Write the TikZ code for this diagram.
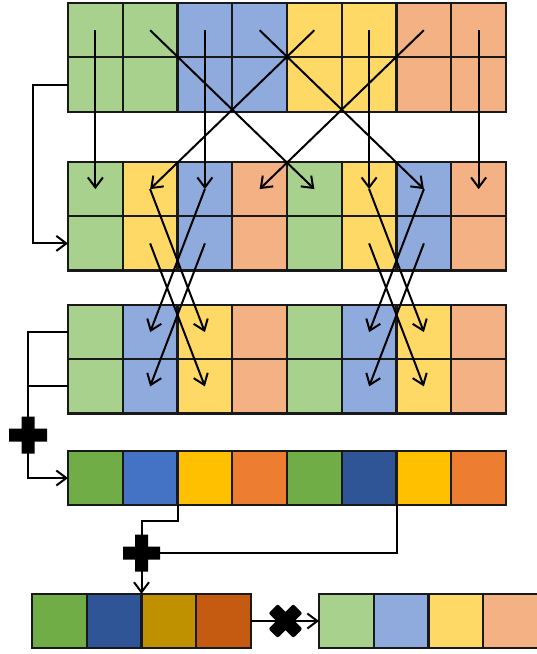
\documentclass[tikz,border=0pt]{standalone}
\usetikzlibrary{arrows.meta}
\definecolor{lg}{HTML}{A9D18E}
\definecolor{lb}{HTML}{8FAADC}
\definecolor{ly}{HTML}{FFD966}
\definecolor{lo}{HTML}{F4B183}
\definecolor{mg}{HTML}{70AD47}
\definecolor{mb}{HTML}{4472C4}
\definecolor{db}{HTML}{2F5597}
\definecolor{my}{HTML}{FFC000}
\definecolor{mo}{HTML}{ED7D31}
\definecolor{dy}{HTML}{BF9000}
\definecolor{do}{HTML}{C55A11}
\begin{document}
\begin{tikzpicture}[x=1pt,y=-1pt,
  cell/.style={draw=black!90, line width=2.1pt, minimum width=54.75pt, minimum height=54.25pt, inner sep=0pt, outer sep=0pt, fill=#1},
  arr/.style={line width=2pt, -{Straight Barb[length=10pt,width=15pt,line width=2pt]}},
  link/.style={line width=2pt}]
\useasboundingbox (0,0) rectangle (537,654);
% row 1
\foreach \i/\c in {1/lg,2/lg,3/lb,4/lb,5/ly,6/ly,7/lo,8/lo} {
  \node[cell=\c] (a\i-t) at ({68+54.75*(\i-0.5)},30.2) {};
  \node[cell=\c] (a\i-b) at ({68+54.75*(\i-0.5)},84.5) {};
}
% row 2
\foreach \i/\c in {1/lg,2/ly,3/lb,4/lo,5/lg,6/ly,7/lb,8/lo} {
  \node[cell=\c] (b\i-t) at ({68+54.75*(\i-0.5)},189.1) {};
  \node[cell=\c] (b\i-b) at ({68+54.75*(\i-0.5)},243.4) {};
}
% row 3
\foreach \i/\c in {1/lg,2/lb,3/ly,4/lo,5/lg,6/lb,7/ly,8/lo} {
  \node[cell=\c] (c\i-t) at ({68+54.75*(\i-0.5)},332.1) {};
  \node[cell=\c] (c\i-b) at ({68+54.75*(\i-0.5)},386.4) {};
}
% row 4
\foreach \i/\c in {1/mg,2/mb,3/my,4/mo,5/mg,6/db,7/my,8/mo} {
  \node[cell=\c] (d\i) at ({68+54.75*(\i-0.5)},478) {};
}
% row 5
\foreach \i/\c in {1/mg,2/db,3/dy,4/do} {
  \node[cell=\c] (e\i) at ({32+54.75*(\i-0.5)},621) {};
}
% row 6
\foreach \i/\c in {1/lg,2/lb,3/ly,4/lo} {
  \node[cell=\c] (f\i) at ({319+54.75*(\i-0.5)},621) {};
}
% row1 -> row2
\foreach \s/\t in {1/1,2/5,3/3,4/7,5/2,6/6,7/4,8/8} {
  \draw[arr] (a\s-t.center) -- (b\t-t.center);
}
% row2 -> row3
\foreach \s/\t in {2/3,3/2,6/7,7/6} {
  \draw[arr] (b\s-t.center) -- (c\t-t.center);
  \draw[arr] (b\s-b.center) -- (c\t-b.center);
}
% left connector top
\draw[arr] (a1-b.west) -- ++(-35,0) |- (b1-b.west);
% plus 1
\coordinate (p1) at (28,435);
\draw[link] (c1-t.west) -| (p1);
\draw[link] (c1-b.west) -- (c1-b.west -| p1);
\draw[arr] (p1) |- (d1.west);
\fill[shift={(p1)}] (-19,-6.5) rectangle (19,6.5) (-6.5,-18.5) rectangle (6.5,18.5);
% plus 2
\coordinate (p2) at (141.5,553);
\draw[link] (d3.south west) -- ++(0,16) -| (p2);
\draw[link] (p2) -| (d7.south west);
\draw[arr] (p2) -- (e3.north west);
\fill[shift={(p2)}] (-18.5,-6.5) rectangle (18.5,6.5) (-6.5,-18.5) rectangle (6.5,18.5);
% cross
\coordinate (x1) at (285.5,621);
\draw[arr] (e4.east) -- (f1.west);
\fill[shift={(x1)},rotate=45,rounded corners=2pt] (-17.5,-6.5) rectangle (17.5,6.5) (-6.5,-17.5) rectangle (6.5,17.5);
\end{tikzpicture}
\end{document}
